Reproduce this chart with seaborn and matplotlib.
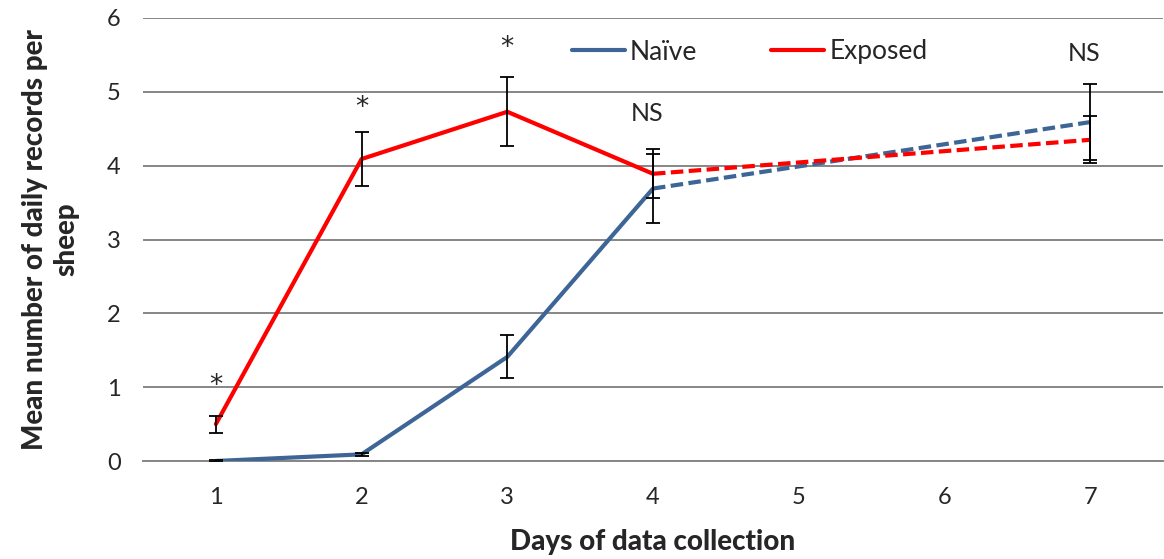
import matplotlib
matplotlib.use("Agg")
import matplotlib.pyplot as plt
import seaborn as sns
import pandas as pd
import numpy as np
from matplotlib.lines import Line2D

days = [1, 2, 3, 4, 7]
naive = [0.0, 0.09, 1.41, 3.69, 4.59]
naive_err = [0.01, 0.02, 0.29, 0.47, 0.52]
exposed = [0.50, 4.09, 4.73, 3.89, 4.35]
exposed_err = [0.115, 0.37, 0.47, 0.33, 0.32]
x_labels = ["1", "2", "3", "4", "5", "6", "7"]
star_days = [1, 2, 3]
star_y = [1.02, 4.78, 5.60]
ns_days = [4, 7]
ns_y = [4.70, 5.52]

sns.set_style("white")
plt.rcParams['font.family'] = ['Lato', 'DejaVu Sans']

BLUE = "#3D6596"
RED = "#FF0000"

fig = plt.figure(figsize=(11.64, 5.59), dpi=100)
ax = fig.add_axes([143/1164, 98/559, 1020/1164, 443/559])

solid = pd.DataFrame({
    "day": days[:4] * 2,
    "value": naive[:4] + exposed[:4],
    "group": ["Naïve"] * 4 + ["Exposed"] * 4,
})
sns.lineplot(data=solid, x="day", y="value", hue="group",
             palette={"Naïve": BLUE, "Exposed": RED}, linewidth=3,
             ax=ax, legend=False, zorder=3)

dash = pd.DataFrame({
    "day": days[3:] * 2,
    "value": naive[3:] + exposed[3:],
    "group": ["Naïve"] * 2 + ["Exposed"] * 2,
})
for g, c in [("Naïve", BLUE), ("Exposed", RED)]:
    d = dash[dash.group == g]
    ax.plot(d["day"], d["value"], color=c, lw=3, dashes=(3, 1.3), zorder=3)

ax.errorbar(days, naive, yerr=naive_err, fmt="none", ecolor="black",
            elinewidth=1.3, capsize=5, capthick=1.3, zorder=4)
ax.errorbar(days, exposed, yerr=exposed_err, fmt="none", ecolor="black",
            elinewidth=1.3, capsize=5, capthick=1.3, zorder=4)

for d, y in zip(star_days, star_y):
    ax.text(d, y, "*", ha="center", va="center", fontsize=19, family="DejaVu Sans")
for d, y in zip(ns_days, ns_y):
    ax.text(d - 0.04, y, "NS", ha="center", va="center", fontsize=18)

ax.set_xlim(0.5, 7.5)
ax.set_ylim(0, 6)
ax.set_xticks(range(1, 8))
ax.set_xticklabels(x_labels, fontsize=17)
ax.set_xticks(np.arange(0.5, 7.6, 1), minor=True)
ax.tick_params(axis="x", which="major", length=0, pad=19)
ax.tick_params(axis="x", which="minor", length=8, width=1.3, color="#868686", direction="out")
ax.set_yticks(range(0, 7))
ax.tick_params(axis="y", length=0, labelsize=17, pad=16)
ax.yaxis.grid(True, color="#868686", lw=1.4)
ax.set_axisbelow(True)
for s in ["left", "right", "top"]:
    ax.spines[s].set_visible(False)
ax.spines["bottom"].set_color("#868686")
ax.spines["bottom"].set_linewidth(1.4)

ax.set_xlabel("Days of data collection", fontsize=20, fontweight="black", labelpad=15)
ax.set_ylabel("Mean number of daily records per\nsheep", fontsize=20, fontweight="black",
              labelpad=20, linespacing=1.25)

handles = [Line2D([], [], color=BLUE, lw=3), Line2D([], [], color=RED, lw=3)]
ax.legend(handles, ["Naïve", "Exposed"], loc="center left",
          bbox_to_anchor=((572 - 143) / 1020, 1 - 34 / 443),
          ncol=2, frameon=False, fontsize=19, handlelength=2.0, handletextpad=0.2,
          columnspacing=2.8, borderpad=0, borderaxespad=0)

fig.savefig("out.png", dpi=100)
